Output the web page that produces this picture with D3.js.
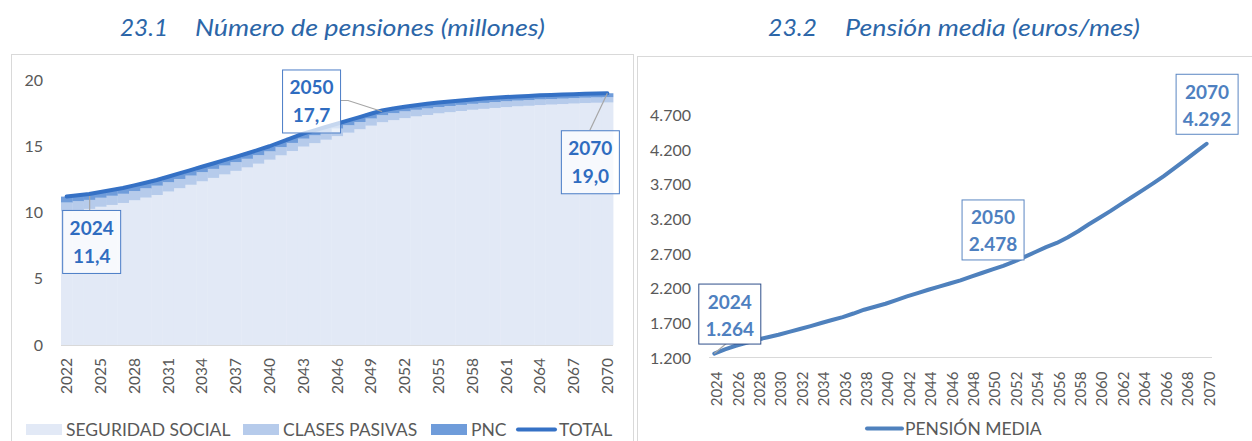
<!DOCTYPE html>
<html lang="es">
<head>
<meta charset="utf-8">
<script src="https://cdn.jsdelivr.net/npm/d3@7/dist/d3.min.js"></script>
<style>
  html, body { margin: 0; padding: 0; background: #fff; }
  svg { display: block; font-family: Lato, "Open Sans", sans-serif; }
</style>
</head>
<body>
<svg id="chart" width="1252" height="441"></svg>
<script>
// ---- 23.1 Número de pensiones (millones) ----
const years = d3.range(2022, 2071);
const seguridadSocial = [
  10.09, 10.18, 10.27, 10.43, 10.57, 10.72, 10.92, 11.12, 11.32, 11.58,
  11.83, 12.09, 12.35, 12.61, 12.87, 13.14, 13.40, 13.68, 13.98, 14.31,
  14.64, 14.97, 15.23, 15.49, 15.76, 16.02, 16.28, 16.55, 16.81, 16.97,
  17.12, 17.25, 17.36, 17.48, 17.57, 17.66, 17.75, 17.82, 17.89, 17.95,
  18.01, 18.05, 18.11, 18.14, 18.18, 18.22, 18.26, 18.28, 18.30
];
const clasesPasivas = [
  0.66, 0.67, 0.68, 0.68, 0.69, 0.69, 0.70, 0.70, 0.70, 0.70,
  0.70, 0.69, 0.69, 0.68, 0.67, 0.66, 0.65, 0.64, 0.63, 0.62,
  0.61, 0.60, 0.59, 0.58, 0.57, 0.56, 0.55, 0.54, 0.53, 0.52,
  0.51, 0.50, 0.49, 0.48, 0.47, 0.46, 0.45, 0.45, 0.44, 0.44,
  0.43, 0.43, 0.42, 0.42, 0.41, 0.41, 0.40, 0.40, 0.40
];
const pnc = [
  0.45, 0.45, 0.45, 0.44, 0.44, 0.44, 0.43, 0.43, 0.43, 0.42,
  0.42, 0.42, 0.41, 0.41, 0.41, 0.40, 0.40, 0.40, 0.39, 0.39,
  0.39, 0.38, 0.38, 0.38, 0.37, 0.37, 0.37, 0.36, 0.36, 0.36,
  0.35, 0.35, 0.35, 0.34, 0.34, 0.34, 0.33, 0.33, 0.33, 0.32,
  0.32, 0.32, 0.31, 0.31, 0.31, 0.30, 0.30, 0.30, 0.30
];
const total = [
  11.2, 11.3, 11.4, 11.55, 11.7, 11.85, 12.05, 12.25, 12.45, 12.7,
  12.95, 13.2, 13.45, 13.7, 13.95, 14.2, 14.45, 14.72, 15.0, 15.32,
  15.64, 15.95, 16.2, 16.45, 16.7, 16.95, 17.2, 17.45, 17.7, 17.85,
  17.98, 18.1, 18.2, 18.3, 18.38, 18.46, 18.53, 18.6, 18.66, 18.71,
  18.76, 18.8, 18.84, 18.87, 18.9, 18.93, 18.96, 18.98, 19.0
];
const leftYTicks = [0, 5, 10, 15, 20];
const leftXTicks = [2022, 2025, 2028, 2031, 2034, 2037, 2040, 2043, 2046, 2049,
  2052, 2055, 2058, 2061, 2064, 2067, 2070];
const leftCallouts = [2024, 2050, 2070];

// ---- 23.2 Pensión media (euros/mes) ----
const years2 = d3.range(2024, 2071);
const pensionMedia = [
  1264, 1325, 1377, 1420, 1464, 1500, 1536, 1577, 1618, 1661,
  1705, 1748, 1791, 1842, 1897, 1940, 1983, 2036, 2089, 2137,
  2185, 2230, 2275, 2320, 2375, 2427, 2478, 2530, 2590, 2660,
  2730, 2800, 2860, 2940, 3030, 3130, 3225, 3320, 3420, 3520,
  3620, 3720, 3825, 3940, 4055, 4175, 4292
];
const rightYTicks = [1200, 1700, 2200, 2700, 3200, 3700, 4200, 4700];
const rightXTicks = years2.filter(y => (y - 2024) % 2 === 0);
const rightCallouts = [2024, 2050, 2070];

const es = d3.formatLocale({ decimal: ",", thousands: ".", grouping: [3], currency: ["", " €"] });
const fmt1 = es.format(".1f");
const fmtInt = es.format(",d");

const svg = d3.select("#chart");
const axisColor = "#595959";

// Titles
function title(x1, num, x2, rest, w1, w2) {
  const t = svg.append("g").attr("fill", "#2C66A8")
    .style("font-style", "italic").style("font-size", "24px");
  t.append("text").attr("x", x1).attr("y", 36).text(num)
    .attr("textLength", w1).attr("lengthAdjust", "spacingAndGlyphs");
  t.append("text").attr("x", x2).attr("y", 36).text(rest)
    .attr("textLength", w2).attr("lengthAdjust", "spacingAndGlyphs");
}
title(120, "23.1", 195, "Número de pensiones (millones)", 48, 350);
title(768, "23.2", 845, "Pensión media (euros/mes)", 49, 295);

// Panel frames
svg.append("rect").attr("x", 11.5).attr("y", 54.5).attr("width", 622).attr("height", 400)
  .attr("fill", "none").attr("stroke", "#D9D9D9");
svg.append("rect").attr("x", 637.5).attr("y", 56.5).attr("width", 620).attr("height", 400)
  .attr("fill", "none").attr("stroke", "#D9D9D9");

// ===== Left chart =====
const x = d3.scaleBand().domain(years).range([61, 613]).padding(0);
const y = d3.scaleLinear().domain([0, 20]).range([345, 80]);

const table = years.map((yr, i) => ({
  year: yr, ss: seguridadSocial[i], cp: clasesPasivas[i], pnc: pnc[i]
}));
const keys = ["ss", "cp", "pnc"];
const colors = { ss: "#E2E9F6", cp: "#B6CBEB", pnc: "#6F9CDA" };
const stacked = d3.stack().keys(keys)(table);

const gL = svg.append("g");
gL.selectAll("g.layer").data(stacked).join("g")
  .attr("fill", d => colors[d.key])
  .selectAll("rect").data(d => d).join("rect")
  .attr("x", d => x(d.data.year))
  .attr("width", x.bandwidth() + 0.4)
  .attr("y", d => y(d[1]))
  .attr("height", d => y(d[0]) - y(d[1]));

// Baseline
gL.append("line").attr("x1", 61).attr("x2", 613).attr("y1", y(0) + 0.5).attr("y2", y(0) + 0.5)
  .attr("stroke", "#D9D9D9");

// Total line
const cx = yr => x(yr) + x.bandwidth() / 2;
gL.append("path")
  .datum(years.map((yr, i) => [yr, total[i]]))
  .attr("fill", "none").attr("stroke", "#3571C5").attr("stroke-width", 4)
  .attr("stroke-linecap", "round").attr("stroke-linejoin", "round")
  .attr("d", d3.line().x(d => cx(d[0])).y(d => y(d[1])));

// Axes
const yAxL = gL.append("g").attr("transform", "translate(43,0)")
  .call(d3.axisLeft(y).tickValues(leftYTicks).tickSize(0).tickPadding(0));
yAxL.select(".domain").remove();
yAxL.selectAll("text").attr("fill", axisColor).style("font-size", "16px").style("font-family", "Lato");

const xAxL = gL.append("g").attr("transform", `translate(0,${y(0)})`)
  .call(d3.axisBottom(x).tickValues(leftXTicks).tickSize(0));
xAxL.select(".domain").remove();
xAxL.selectAll("text")
  .attr("transform", "rotate(-90)").attr("text-anchor", "end")
  .attr("x", -13).attr("y", 0).attr("dy", "0.36em")
  .attr("fill", axisColor).style("font-size", "15.5px").style("font-family", "Lato");

// Callouts (left)
const leftBox = { 2024: { dx: 2, dy: 16, lead: "v" }, 2050: { dx: -71, dy: -41, lead: "elbow" }, 2070: { dx: -17.5, dy: 37, lead: "diag" } };
leftCallouts.forEach(yr => {
  const i = years.indexOf(yr);
  const px = cx(yr), py = y(total[i]);
  const o = leftBox[yr];
  const bw = 58, bh = 63;
  const bx = px + o.dx - bw / 2, by = py + o.dy;
  let pts;
  if (o.lead === "v") pts = [[px + 0.5, by], [px + 0.5, py + 2]];
  else if (o.lead === "elbow") pts = [[bx + bw, by + 31], [bx + bw + 8, by + 31], [px, py + 1]];
  else pts = [[bx + 29, by], [px, py]];
  gL.append("path").attr("d", d3.line()(pts)).attr("fill", "none")
    .attr("stroke", "#A6A6A6").attr("stroke-width", 1.2);
  gL.append("rect").attr("x", bx + 0.5).attr("y", by + 0.5).attr("width", bw).attr("height", bh)
    .attr("fill", "#fff").attr("fill-opacity", 0.72).attr("stroke", "#4A7CC6");
  const tg = gL.append("g").attr("fill", "#2F6CC0").attr("text-anchor", "middle")
    .style("font-weight", "bold").style("font-size", "19px");
  tg.append("text").attr("x", bx + bw / 2 + 0.5).attr("y", by + 25).text(yr);
  tg.append("text").attr("x", bx + bw / 2 + 0.5).attr("y", by + 53).text(fmt1(total[i]));
});

// Legend (left)
const legL = gL.append("g").style("font-size", "17.5px").attr("fill", axisColor);
const legItems = [
  { label: "SEGURIDAD SOCIAL", key: "ss", x: 26 },
  { label: "CLASES PASIVAS", key: "cp", x: 243 },
  { label: "PNC", key: "pnc", x: 431 }
];
legItems.forEach(d => {
  legL.append("rect").attr("x", d.x).attr("y", 424).attr("width", 36).attr("height", 11).attr("fill", colors[d.key]);
  legL.append("text").attr("x", d.x + 40).attr("y", 436).text(d.label);
});
legL.append("line").attr("x1", 518).attr("x2", 555).attr("y1", 429.5).attr("y2", 429.5)
  .attr("stroke", "#3571C5").attr("stroke-width", 4).attr("stroke-linecap", "round");
legL.append("text").attr("x", 559).attr("y", 436).text("TOTAL");

// ===== Right chart =====
const x2 = d3.scalePoint().domain(years2).range([714.3, 1206.6]);
const y2 = d3.scaleLinear().domain([1200, 4700]).range([358, 115.5]);
const gR = svg.append("g");

gR.append("line").attr("x1", 709).attr("x2", 1212).attr("y1", 357.5).attr("y2", 357.5)
  .attr("stroke", "#D9D9D9");

const yAxR = gR.append("g").attr("transform", "translate(691,0)")
  .call(d3.axisLeft(y2).tickValues(rightYTicks).tickSize(0).tickPadding(0).tickFormat(fmtInt));
yAxR.select(".domain").remove();
yAxR.selectAll("text").attr("fill", axisColor).style("font-size", "16px").style("font-family", "Lato");

const xAxR = gR.append("g").attr("transform", "translate(2,357.5)")
  .call(d3.axisBottom(x2).tickValues(rightXTicks).tickSize(0));
xAxR.select(".domain").remove();
xAxR.selectAll("text")
  .attr("transform", "rotate(-90)").attr("text-anchor", "end")
  .attr("x", -14).attr("y", 0).attr("dy", "0.36em")
  .attr("fill", axisColor).style("font-size", "15px").style("font-family", "Lato");

gR.append("path")
  .datum(years2.map((yr, i) => [yr, pensionMedia[i]]))
  .attr("fill", "none").attr("stroke", "#4F81BD").attr("stroke-width", 4)
  .attr("stroke-linecap", "round").attr("stroke-linejoin", "round")
  .attr("d", d3.line().x(d => x2(d[0])).y(d => y2(d[1])));

// Callouts (right)
const rightBox = { 2024: { dx: 15, stroke: "#2E4F8A" }, 2050: { dx: 0, stroke: "#5A86C2" }, 2070: { dx: 0, stroke: "#5A86C2" } };
rightCallouts.forEach(yr => {
  const i = years2.indexOf(yr);
  const px = x2(yr), py = y2(pensionMedia[i]);
  const o = rightBox[yr];
  const bw = 62, bh = 60;
  const bx = px + o.dx - bw / 2, by = py - 70;
  if (yr === 2024) {
    gR.append("path").attr("d", d3.line()([[px, py], [bx + 28, by + bh]]))
      .attr("stroke", "#A6A6A6").attr("stroke-width", 1.2).attr("fill", "none");
  }
  gR.append("rect").attr("x", bx + 0.5).attr("y", by + 0.5).attr("width", bw).attr("height", bh)
    .attr("fill", "#fff").attr("stroke", o.stroke);
  const tg = gR.append("g").attr("fill", "#4E80C0").attr("text-anchor", "middle")
    .style("font-weight", "bold").style("font-size", "19px");
  tg.append("text").attr("x", bx + bw / 2 + 0.5).attr("y", by + 25).text(yr);
  tg.append("text").attr("x", bx + bw / 2 + 0.5).attr("y", by + 52).text(fmtInt(pensionMedia[i]));
});

// Legend (right)
gR.append("line").attr("x1", 867).attr("x2", 902).attr("y1", 428.5).attr("y2", 428.5)
  .attr("stroke", "#4F81BD").attr("stroke-width", 4).attr("stroke-linecap", "round");
gR.append("text").attr("x", 905).attr("y", 435).attr("fill", axisColor)
  .style("font-size", "17.5px").text("PENSIÓN MEDIA");
</script>
</body>
</html>
